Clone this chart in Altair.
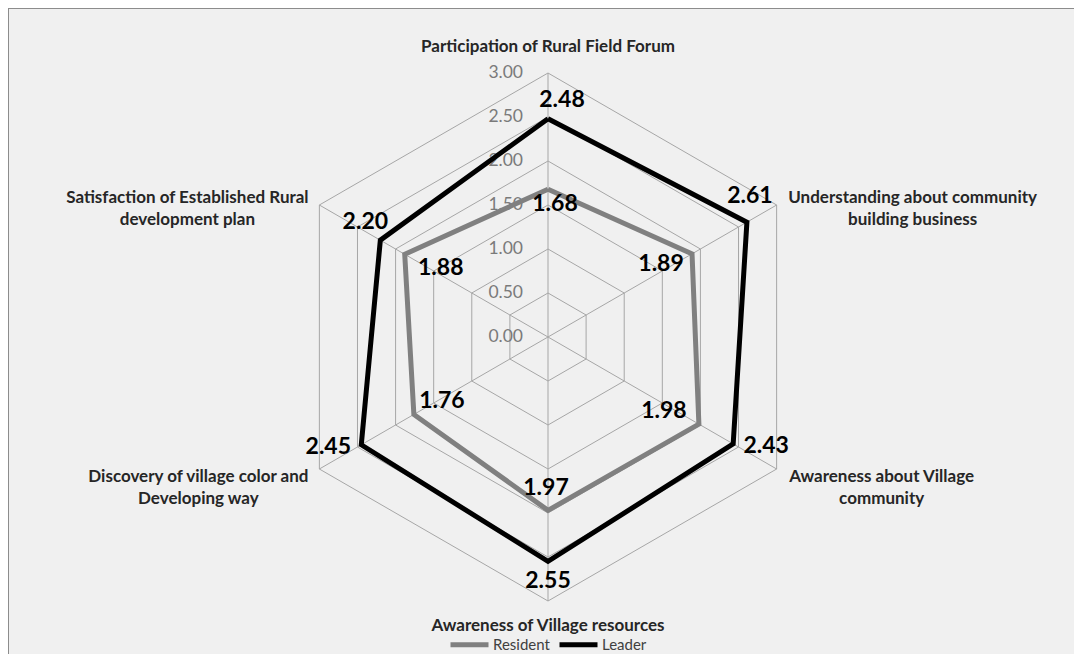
import altair as alt
import pandas as pd

# ---- data ----
CATEGORIES = [
    "Participation of Rural Field Forum",
    "Understanding about community\nbuilding business",
    "Awareness about Village\ncommunity",
    "Awareness of Village resources",
    "Discovery of village color and\nDeveloping way",
    "Satisfaction of Established Rural\ndevelopment plan",
]
RESIDENT = [1.68, 1.89, 1.98, 1.97, 1.76, 1.88]
LEADER = [2.48, 2.61, 2.43, 2.55, 2.45, 2.20]
SERIES = ["Resident", "Leader"]
LEVELS = [0.0, 0.5, 1.0, 1.5, 2.0, 2.5, 3.0]
RMAX = 3.0

# ---- style / layout ----
W, H = 1066, 646
PX = 88.0            # pixels per unit of radius
CX, CY = 540.0, 329.0  # centre of the radar in view pixels
FONT = "Lato"
# value-label offsets (pixels) per point
RES_DX = [7, -31, -35, -2, 28, 36]
RES_DY = [15, 10, -13, -22, -13, 14]
LEA_DX = [14, 3, 33, 0, -33, -15]
LEA_DY = [-19, -26, 2, 20, 2, -18]
# category-label offsets (pixels) from outer vertex
CAT_DX = [0, 136, 105, 0, -121, -132]
CAT_DY = [-26, -7, 8, 25, 8, -7]

xdom = [-CX / PX, (W - CX) / PX]
ydom = [-(H - CY) / PX, CY / PX]
xs = alt.Scale(domain=xdom, nice=False, zero=False)
ys = alt.Scale(domain=ydom, nice=False, zero=False)

ANG = "PI/2 - datum.i*PI/3"

# series table (closed polygons)
rows = []
for s, vals in zip(SERIES, [RESIDENT, LEADER]):
    for k in range(7):
        rows.append({"series": s, "i": k % 6, "ord": k, "v": vals[k % 6]})
series_df = pd.DataFrame(rows)

lab_rows = []
for s, vals, dxs, dys in [("Resident", RESIDENT, RES_DX, RES_DY), ("Leader", LEADER, LEA_DX, LEA_DY)]:
    for k in range(6):
        lab_rows.append({"series": s, "i": k, "v": vals[k], "ox": dxs[k] / PX, "oy": -dys[k] / PX})
lab_df = pd.DataFrame(lab_rows)

ring_rows = []
for lv in LEVELS[1:]:
    for k in range(7):
        ring_rows.append({"lvl": lv, "i": k % 6, "ord": k})
ring_df = pd.DataFrame(ring_rows)

spoke_df = pd.DataFrame({"i": list(range(6)), "r": [RMAX] * 6})
tick_df = pd.DataFrame({"lvl": LEVELS})
cat_df = pd.DataFrame({
    "cat": CATEGORIES, "i": list(range(6)),
    "ox": [d / PX for d in CAT_DX], "oy": [-d / PX for d in CAT_DY],
})

frame_top = alt.Chart(pd.DataFrame({"k": [0]})).mark_rule(color="#8c8c8c", strokeWidth=2).encode(
    x=alt.value(0), x2=alt.value(W), y=alt.value(0)
)
frame_left = alt.Chart(pd.DataFrame({"k": [0]})).mark_rule(color="#8c8c8c", strokeWidth=2).encode(
    x=alt.value(0), y=alt.value(0), y2=alt.value(H)
)

rings = alt.Chart(ring_df).transform_calculate(
    x=f"datum.lvl*cos({ANG})", y=f"datum.lvl*sin({ANG})"
).mark_line(color="#a6a6a6", strokeWidth=1).encode(
    x=alt.X("x:Q", scale=xs, axis=None),
    y=alt.Y("y:Q", scale=ys, axis=None),
    detail="lvl:N", order="ord:Q",
)

spokes = alt.Chart(spoke_df).transform_calculate(
    x0="0", y0="0",
    x=f"datum.r*cos({ANG})", y=f"datum.r*sin({ANG})"
).mark_rule(color="#a6a6a6", strokeWidth=1).encode(
    x=alt.X("x0:Q", scale=xs, axis=None),
    y=alt.Y("y0:Q", scale=ys, axis=None),
    x2="x:Q", y2="y:Q",
)

ticks = alt.Chart(tick_df).transform_calculate(
    x="0", y="datum.lvl"
).mark_text(align="right", baseline="middle", dx=-25, font=FONT, fontSize=17.5, color="#7a7a7a").encode(
    x=alt.X("x:Q", scale=xs, axis=None),
    y=alt.Y("y:Q", scale=ys, axis=None),
    text=alt.Text("lvl:Q", format=".2f"),
)

lines = alt.Chart(series_df).transform_calculate(
    x=f"datum.v*cos({ANG})", y=f"datum.v*sin({ANG})"
).mark_line(strokeWidth=5, strokeJoin="miter").encode(
    x=alt.X("x:Q", scale=xs, axis=None),
    y=alt.Y("y:Q", scale=ys, axis=None),
    color=alt.Color("series:N", scale=alt.Scale(domain=SERIES, range=["#808080", "#000000"]),
                    legend=alt.Legend(title=None, orient="none", legendX=440, legendY=615,
                                      direction="horizontal", columns=2,
                                      symbolType="stroke", symbolStrokeWidth=5, symbolSize=1444,
                                      labelFont=FONT, labelFontSize=15, labelColor="#404040",
                                      labelOffset=2, columnPadding=-1, padding=0)),
    order="ord:Q",
)

vlabels = alt.Chart(lab_df).transform_calculate(
    x=f"datum.v*cos({ANG}) + datum.ox", y=f"datum.v*sin({ANG}) + datum.oy"
).mark_text(align="center", baseline="middle", font=FONT, fontSize=23, fontWeight="bold", color="#000000").encode(
    x=alt.X("x:Q", scale=xs, axis=None),
    y=alt.Y("y:Q", scale=ys, axis=None),
    text=alt.Text("v:Q", format=".2f"),
)

cats = alt.Chart(cat_df).transform_calculate(
    x=f"{RMAX}*cos({ANG}) + datum.ox", y=f"{RMAX}*sin({ANG}) + datum.oy"
).mark_text(align="center", baseline="middle", font=FONT, fontSize=17, fontWeight="bold",
            color="#262626", lineBreak="\n", lineHeight=22).encode(
    x=alt.X("x:Q", scale=xs, axis=None),
    y=alt.Y("y:Q", scale=ys, axis=None),
    text="cat:N",
)

chart = alt.layer(frame_top, frame_left, rings, spokes, ticks, lines, vlabels, cats).properties(
    width=W, height=H, autosize=alt.AutoSizeParams(type="none"), padding=0,
).configure_view(fill="#f0f0f0", stroke=None)

chart.save("out.html", embed_options={"renderer": "svg", "actions": False})
